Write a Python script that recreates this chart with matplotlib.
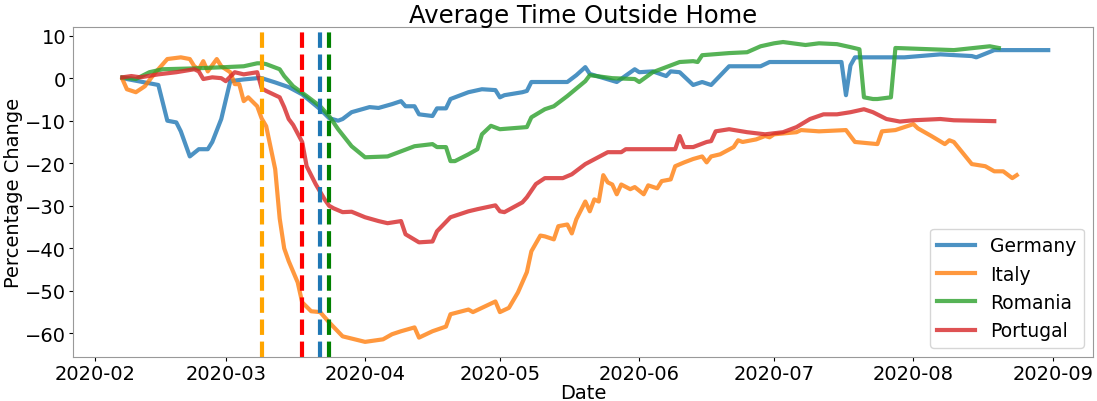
import matplotlib
matplotlib.use("Agg")
import matplotlib.pyplot as plt
import pandas as pd

# 读图得到的数据 (month-day, percent change)
germany_dates = ["02-07", "02-15", "02-17", "02-19", "02-20", "02-22", "02-24", "02-26", "02-27", "02-29",
                 "03-02", "03-05", "03-08", "03-09", "03-12", "03-15", "03-18", "03-22", "03-24", "03-26",
                 "03-27", "03-29", "04-02", "04-04", "04-07", "04-09", "04-10", "04-12", "04-13", "04-16",
                 "04-17", "04-19", "04-20", "04-24", "04-27", "04-30", "05-01", "05-02", "05-06", "05-07",
                 "05-08", "05-16", "05-18", "05-20", "05-21", "05-27", "05-31", "06-01", "06-04", "06-07",
                 "06-08", "06-10", "06-13", "06-15", "06-17", "06-21", "06-28", "06-30", "07-16", "07-17",
                 "07-18", "07-19", "07-26", "07-30", "08-07", "08-14", "08-15", "08-19", "08-31"]
germany_vals = [0, -1.6, -10, -10.4, -12.5, -18.4, -16.7, -16.7, -15, -9.6,
                -0.7, -0.3, 0, 0, -1, -2.1, -3.8, -7.3, -9.4, -10,
                -9.6, -8, -6.8, -7, -6.1, -5.4, -6.6, -6.6, -8.5, -8.9,
                -7.1, -7.1, -4.9, -3.3, -2.6, -2.8, -4.5, -4, -3.3, -3,
                -0.9, -0.9, 0.7, 2.6, 1.0, -0.9, 2.1, 1.4, 1.6, 0.5,
                1.6, 1.4, -1.6, -0.9, -1.6, 2.8, 2.8, 3.8, 3.8, -4,
                3.0, 4.9, 4.9, 4.9, 5.6, 5.2, 4.9, 6.6, 6.6]

italy_dates = ["02-07", "02-08", "02-10", "02-12", "02-14", "02-17", "02-20", "02-22", "02-23", "02-24",
               "02-25", "02-26", "02-28", "02-29", "03-02", "03-03", "03-04", "03-05", "03-06", "03-08",
               "03-09", "03-10", "03-12", "03-13", "03-14", "03-15", "03-17", "03-18", "03-20", "03-22",
               "03-24", "03-27", "04-01", "04-05", "04-07", "04-09", "04-12", "04-13", "04-16", "04-19",
               "04-20", "04-24", "04-25", "04-30", "05-01", "05-03", "05-05", "05-07", "05-08", "05-10",
               "05-11", "05-13", "05-14", "05-16", "05-17", "05-18", "05-20", "05-21", "05-22", "05-23",
               "05-24", "05-25", "05-26", "05-27", "05-28", "05-30", "05-31", "06-02", "06-03", "06-05",
               "06-06", "06-08", "06-09", "06-11", "06-13", "06-15", "06-16", "06-17", "06-19", "06-22",
               "06-23", "06-24", "06-27", "06-29", "06-30", "07-01", "07-06", "07-07", "07-11", "07-17",
               "07-19", "07-24", "07-25", "07-28", "07-30", "08-01", "08-02", "08-05", "08-08", "08-09",
               "08-10", "08-14", "08-17", "08-19", "08-21", "08-23", "08-24"]
italy_vals = [-0.2, -2.6, -3.3, -1.9, 0.9, 4.5, 4.9, 4.5, 2.8, 2.1,
              4.0, 1.6, 4.5, 2.8, 1.4, -1.4, -1.4, -5.4, -4.5, -6.6,
              -9.5, -11.3, -21.4, -33, -40, -43, -48, -52.7, -54.8, -55,
              -57.4, -60.7, -62, -61.4, -60.2, -59.5, -58.6, -61, -59.5, -58.4,
              -55.5, -54.4, -55, -52.5, -55, -54, -50.4, -45.6, -40.7, -37,
              -37.2, -37.9, -34.8, -34.4, -36.5, -33.2, -29, -31.3, -28.5, -29,
              -22.8, -24.5, -25, -27.3, -25, -26.1, -25.6, -27.3, -25.2, -25.9,
              -24.2, -23.8, -20.7, -19.8, -19, -18.4, -19.8, -18.4, -17.9, -16.2,
              -14.6, -15, -14.4, -13.6, -13.9, -13.2, -12.7, -12.2, -12.5, -12.2,
              -15, -15.5, -12.5, -12.2, -11.5, -10.8, -11.8, -13.6, -15.5, -14.6,
              -15, -20.2, -20.7, -21.9, -21.9, -23.5, -22.8]

romania_dates = ["02-07", "02-10", "02-13", "02-16", "02-23", "03-01", "03-05", "03-08", "03-09", "03-10",
                 "03-13", "03-14", "03-16", "03-19", "03-22", "03-24", "03-26", "03-29", "04-01", "04-06",
                 "04-09", "04-12", "04-16", "04-17", "04-19", "04-20", "04-21", "04-24", "04-26", "04-27",
                 "04-29", "05-01", "05-07", "05-08", "05-11", "05-13", "05-16", "05-20", "05-21", "05-26",
                 "05-31", "06-01", "06-04", "06-07", "06-10", "06-13", "06-14", "06-15", "06-21", "06-25",
                 "06-28", "07-01", "07-03", "07-08", "07-11", "07-15", "07-18", "07-20", "07-21", "07-23",
                 "07-24", "07-27", "07-28", "08-10", "08-18", "08-20"]
romania_vals = [0.2, -0.2, 1.4, 2.1, 2.3, 2.6, 2.8, 3.5, 3.5, 3.3,
                2.1, 0.5, -1.9, -4.2, -6.6, -8.9, -12, -16, -18.6, -18.4,
                -17.2, -16, -15.5, -16.2, -16.2, -19.5, -19.5, -17.9, -16.7, -13.2,
                -11.2, -12, -11.5, -9.2, -7.3, -6.6, -4.2, -0.7, 0.7, 0,
                -0.2, -0.9, 1.4, 2.6, 3.8, 4.0, 3.8, 5.4, 5.9, 6.1,
                7.5, 8.2, 8.5, 7.8, 8.2, 8.0, 7.3, 6.8, -4.5, -4.9,
                -4.9, -4.5, 7.1, 6.6, 7.5, 7.1]

portugal_dates = ["02-07", "02-09", "02-11", "02-15", "02-19", "02-23", "02-24", "02-25", "02-27", "02-29",
                  "03-01", "03-03", "03-05", "03-08", "03-09", "03-10", "03-11", "03-13", "03-14", "03-15",
                  "03-16", "03-18", "03-19", "03-21", "03-23", "03-24", "03-25", "03-27", "03-29", "04-01",
                  "04-04", "04-06", "04-09", "04-10", "04-13", "04-16", "04-17", "04-20", "04-24", "04-26",
                  "04-30", "05-01", "05-02", "05-06", "05-07", "05-09", "05-11", "05-15", "05-17", "05-20",
                  "05-25", "05-28", "05-29", "06-09", "06-10", "06-11", "06-13", "06-16", "06-17", "06-18",
                  "06-21", "06-25", "06-29", "07-03", "07-06", "07-09", "07-12", "07-15", "07-18", "07-21",
                  "07-23", "07-26", "07-29", "08-01", "08-07", "08-10", "08-19"]
portugal_vals = [0.2, 0.5, 0.2, 0.9, 1.4, 2.1, 1.6, -0.2, 0.2, 0,
                 -0.7, 1.4, 0.9, 1.4, -2.4, -3.0, -3.5, -4.5, -6.8, -9.6,
                 -11.0, -15, -20.7, -24.9, -28.5, -30, -30.6, -31.5, -31.4, -32.7,
                 -33.6, -34.1, -33.6, -36.7, -38.6, -38.4, -36, -32.7, -31.3, -30.8,
                 -29.9, -31.3, -31.5, -29.2, -28, -24.9, -23.5, -23.5, -22.6, -20.2,
                 -17.4, -17.4, -16.7, -16.7, -13.6, -16.2, -16.2, -15, -14.8, -12.5,
                 -12, -12.7, -13.2, -12.7, -11.5, -9.6, -8.5, -8.5, -8, -7.3,
                 -8, -9.6, -10.2, -9.9, -9.6, -9.9, -10.1]

# 封锁日期 (虚线)
lockdown_dates = ["2020-03-09", "2020-03-18", "2020-03-22", "2020-03-24"]
lockdown_colors = ["orange", "red", "tab:blue", "green"]

series = [("Germany", germany_dates, germany_vals),
          ("Italy", italy_dates, italy_vals),
          ("Romania", romania_dates, romania_vals),
          ("Portugal", portugal_dates, portugal_vals)]

plt.rcParams['font.family'] = ['DejaVu Sans']
fig = plt.figure(figsize=(10.97, 4.02), dpi=100)
ax = fig.add_axes([0.0665, 0.109, 0.93, 0.821])

for name, dates, vals in series:
    x = pd.to_datetime(["2020-" + d for d in dates])
    ax.plot(x, vals, linewidth=3, alpha=0.8, label=name)

for d, c in zip(lockdown_dates, lockdown_colors):
    ax.axvline(pd.to_datetime(d), color=c, linestyle='--', linewidth=3)

ax.set_xlim(pd.to_datetime("2020-01-27"), pd.to_datetime("2020-09-10"))
ax.set_ylim(-65.6, 12.0)
ax.set_title("Average Time Outside Home", fontsize=17.5, pad=2)
ax.set_xlabel("Date", fontsize=14, labelpad=0)
ax.set_ylabel("Percentage Change", fontsize=14, labelpad=1)
ax.tick_params(labelsize=14, length=3, pad=2)
for s in ax.spines.values():
    s.set_color('#999999')
ax.legend(loc='lower right', fontsize=13.5)

fig.savefig("out.png", dpi=100)
